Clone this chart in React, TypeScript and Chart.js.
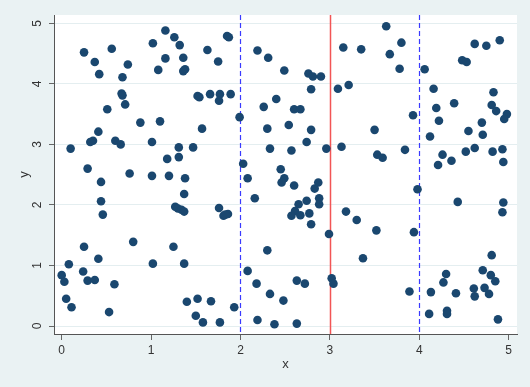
import React, { useEffect, useRef } from "react";
import { Chart, registerables } from "chart.js";

Chart.register(...registerables);

const pointsX: number[] = [
  0.25, 0.56, 0.37, 0.42, 0.74, 0.68, 1.16, 1.26, 1.32, 1.02, 1.16, 1.08, 0.67, 0.68, 0.71, 0.51,
  0.88, 1.10, 0.41, 0.35, 0.32, 0.60, 0.66, 0.10, 1.01, 1.31, 1.31, 1.18, 0.29, 0.76, 1.01, 1.20,
  0.44, 0.44, 0.46, 1.27, 1.30, 1.34, 1.37, 0.80, 0.25, 1.25, 0.41, 0.08, 1.02, 0.00, 0.03, 0.24,
  0.29, 0.37, 0.59, 0.05, 0.11, 0.53,
  1.36, 1.38, 1.36, 1.63, 1.75, 1.85, 1.87, 2.19, 2.31, 2.49, 2.76, 2.81, 2.90, 2.79, 3.09, 3.21,
  3.15, 1.52, 1.54, 1.66, 1.77, 1.76, 1.89, 1.99, 2.26, 2.40, 2.60, 2.67, 2.54, 2.30, 2.79, 2.74,
  1.57, 1.47, 2.33, 2.57, 2.96, 3.13, 2.03, 2.45, 1.38, 2.08, 2.49,
  1.37, 1.76, 1.81, 1.86, 1.83, 2.16, 1.37, 2.30, 2.08, 2.18, 2.33, 2.48, 2.63, 2.72, 1.40, 1.52,
  1.67, 1.93, 1.50, 1.58, 1.77, 2.19, 2.38, 2.63, 2.99, 3.02, 3.04, 3.18, 2.46, 2.60, 2.83, 2.87,
  2.88, 2.88, 2.74, 2.65, 2.61, 2.57, 2.67, 2.77, 2.79,
  3.63, 3.35, 3.80, 3.67, 3.78, 4.06, 4.48, 4.53, 4.62, 4.75, 4.90, 4.16, 4.83, 4.39, 4.19, 4.81,
  4.86, 4.98, 4.95, 4.22, 3.93, 3.50, 4.70, 4.55, 4.71, 4.12, 3.53, 3.59, 3.84, 4.52, 4.62, 4.82,
  4.93, 4.26, 4.21, 4.36, 4.94,
  3.30, 3.52, 3.37, 3.98, 3.94, 4.43, 4.94, 4.93, 4.81, 4.71, 4.80, 4.85, 4.30, 4.27, 3.89, 4.13,
  4.41, 4.61, 4.62, 4.73, 4.78, 4.11, 4.31, 4.31, 4.88,
];

const pointsY: number[] = [
  4.52, 4.58, 4.36, 4.16, 4.32, 4.11, 4.88, 4.77, 4.64, 4.67, 4.42, 4.23, 3.84, 3.81, 3.66, 3.58,
  3.36, 3.38, 3.21, 3.06, 3.04, 3.06, 3.00, 2.93, 3.04, 2.95, 2.79, 2.76, 2.60, 2.52, 2.48, 2.48,
  2.38, 2.06, 1.84, 1.97, 1.94, 1.92, 1.89, 1.39, 1.31, 1.31, 1.11, 1.02, 1.03, 0.84, 0.73, 0.90,
  0.75, 0.76, 0.69, 0.45, 0.31, 0.23,
  4.43, 4.24, 4.21, 4.56, 4.37, 4.79, 4.77, 4.55, 4.43, 4.22, 4.17, 4.12, 4.12, 3.91, 3.92, 3.98,
  4.60, 3.80, 3.78, 3.83, 3.83, 3.72, 3.83, 3.45, 3.62, 3.75, 3.58, 3.58, 3.32, 3.26, 3.24, 3.04,
  3.26, 2.95, 2.93, 2.90, 2.93, 2.96, 2.68, 2.59, 2.44, 2.44, 2.44,
  2.18, 1.95, 1.82, 1.85, 1.84, 2.11, 1.03, 1.25, 0.91, 0.70, 0.53, 0.42, 0.75, 0.70, 0.40, 0.45,
  0.41, 0.31, 0.17, 0.06, 0.06, 0.10, 0.03, 0.04, 1.52, 0.79, 0.70, 1.89, 2.37, 2.32, 2.27, 2.37,
  2.11, 2.01, 2.07, 2.01, 1.90, 1.82, 1.83, 1.86, 1.68,
  4.95, 4.57, 4.68, 4.49, 4.25, 4.24, 4.39, 4.36, 4.66, 4.63, 4.72, 3.92, 3.86, 3.68, 3.60, 3.65,
  3.55, 3.50, 3.42, 3.39, 3.48, 3.24, 3.36, 3.22, 3.16, 3.13, 2.83, 2.78, 2.91, 2.88, 2.94, 2.88,
  2.92, 2.83, 2.66, 2.73, 2.71,
  1.75, 1.58, 1.12, 2.26, 1.55, 2.05, 2.04, 1.88, 1.17, 0.92, 0.84, 0.74, 0.86, 0.72, 0.57, 0.56,
  0.54, 0.62, 0.49, 0.63, 0.53, 0.20, 0.25, 0.20, 0.11,
];

const xTicks: number[] = [0, 1, 2, 3, 4, 5];
const yTicks: number[] = [0, 1, 2, 3, 4, 5];
const dashedLines: number[] = [2, 4];
const solidLines: number[] = [3];
const xTitle = "x";
const yTitle = "y";

const BG = "#eaf2f3";
const TEXT = "#333333";
const FONT = '12px "Liberation Sans", Arial, sans-serif';

export default function App() {
  const ref = useRef<HTMLCanvasElement | null>(null);

  useEffect(() => {
    if (!ref.current) return;
    const decor = {
      id: "decor",
      beforeDraw(chart: any) {
        const { ctx, chartArea: a } = chart;
        ctx.save();
        ctx.fillStyle = BG;
        ctx.fillRect(0, 0, chart.width, chart.height);
        ctx.fillStyle = "#ffffff";
        ctx.fillRect(a.left, a.top, a.right - a.left, a.bottom - a.top);
        ctx.restore();
      },
      beforeDatasetsDraw(chart: any) {
        const { ctx, chartArea: a, scales } = chart;
        ctx.save();
        ctx.lineWidth = 1.2;
        ctx.strokeStyle = "#3a3aff";
        ctx.setLineDash([5, 3]);
        dashedLines.forEach((v) => {
          const px = Math.round(scales.x.getPixelForValue(v)) + 0.5;
          ctx.beginPath();
          ctx.moveTo(px, a.top);
          ctx.lineTo(px, a.bottom);
          ctx.stroke();
        });
        ctx.setLineDash([]);
        ctx.strokeStyle = "#f25555";
        ctx.lineWidth = 1.5;
        solidLines.forEach((v) => {
          const px = Math.round(scales.x.getPixelForValue(v)) + 0.5;
          ctx.beginPath();
          ctx.moveTo(px, a.top);
          ctx.lineTo(px, a.bottom);
          ctx.stroke();
        });
        ctx.restore();
      },
      afterDraw(chart: any) {
        const { ctx, chartArea: a, scales } = chart;
        ctx.save();
        ctx.fillStyle = TEXT;
        ctx.font = FONT;
        ctx.textAlign = "center";
        ctx.textBaseline = "middle";
        xTicks.forEach((v) => {
          ctx.fillText(String(v), scales.x.getPixelForValue(v), a.bottom + 17);
        });
        yTicks.forEach((v) => {
          ctx.save();
          ctx.translate(38, scales.y.getPixelForValue(v));
          ctx.rotate(-Math.PI / 2);
          ctx.fillText(String(v), 0, 0);
          ctx.restore();
        });
        ctx.font = '13px "Liberation Sans", Arial, sans-serif';
        ctx.fillText(xTitle, (a.left + a.right) / 2, a.bottom + 30);
        ctx.save();
        ctx.translate(24, (a.top + a.bottom) / 2);
        ctx.rotate(-Math.PI / 2);
        ctx.fillText(yTitle, 0, 0);
        ctx.restore();
        ctx.restore();
      },
    };

    const chart = new Chart(ref.current, {
      type: "scatter",
      data: {
        datasets: [
          {
            data: pointsX.map((x, i) => ({ x, y: pointsY[i] })),
            backgroundColor: "#1a476f",
            borderWidth: 0,
            pointRadius: 4.3,
          },
        ],
      },
      options: {
        animation: false,
        responsive: false,
        layout: { padding: { top: 15, right: 13, left: 0, bottom: 0 } },
        plugins: { legend: { display: false }, tooltip: { enabled: false } },
        scales: {
          x: {
            type: "linear",
            min: -0.086,
            max: 5.093,
            afterFit: (s: any) => {
              s.height = 53;
            },
            ticks: { stepSize: 1, includeBounds: false, display: false },
            grid: { drawOnChartArea: false, drawTicks: true, tickLength: 6, tickColor: "#666666" },
            border: { display: true, color: "#555555", width: 1 },
          },
          y: {
            type: "linear",
            min: -0.132,
            max: 5.137,
            afterFit: (s: any) => {
              s.width = 54;
            },
            ticks: { stepSize: 1, includeBounds: false, display: false },
            grid: { drawOnChartArea: true, color: "#e4eef0", lineWidth: 1, drawTicks: true, tickLength: 5, tickColor: "#666666" },
            border: { display: true, color: "#555555", width: 1 },
          },
        },
      },
      plugins: [decor],
    });
    return () => chart.destroy();
  }, []);

  return (
    <div style={{ position: "fixed", left: 0, top: 0, width: 530, height: 387 }}>
      <canvas ref={ref} width={530} height={387} style={{ display: "block", width: 530, height: 387 }} />
    </div>
  );
}
